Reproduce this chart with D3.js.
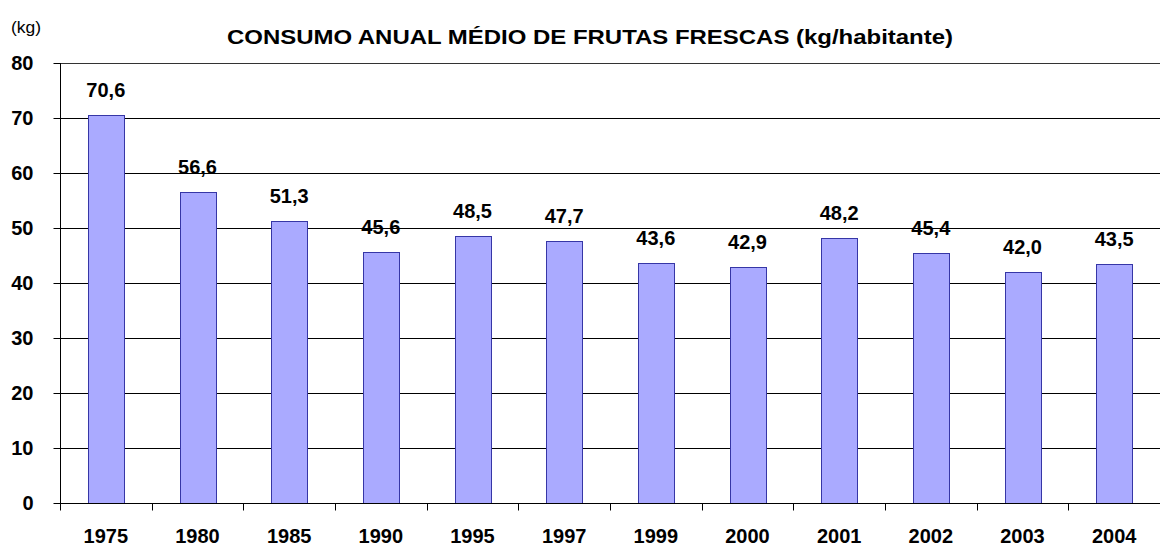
<!DOCTYPE html>
<html><head><meta charset="utf-8">
<script src="https://cdn.jsdelivr.net/npm/d3@7"></script>
<style>body{margin:0;background:#fff}svg{display:block}text{font-family:"Liberation Sans",Arial,sans-serif}</style>
</head><body>
<svg id="c" width="1162" height="546"></svg>
<script>
const categories = ["1975","1980","1985","1990","1995","1997","1999","2000","2001","2002","2003","2004"];
const values = [70.6,56.6,51.3,45.6,48.5,47.7,43.6,42.9,48.2,45.4,42.0,43.5];
const labels = ["70,6","56,6","51,3","45,6","48,5","47,7","43,6","42,9","48,2","45,4","42,0","43,5"];
const yTicks = [0,10,20,30,40,50,60,70,80];
const title = "CONSUMO ANUAL MÉDIO DE FRUTAS FRESCAS (kg/habitante)";
const unit = "(kg)";

const svg = d3.select("#c");
const L=60, R=1160, T=63, B=503;
const xb = d3.scaleBand().domain(categories).range([L,R]);
const y = d3.scaleLinear().domain([0,80]).range([B,T]);
const FONT = "Liberation Sans, Arial, sans-serif";

// gridlines
svg.append("g").selectAll("line").data(yTicks.filter(d=>d>0)).join("line")
  .attr("x1",L).attr("x2",R).attr("y1",d=>y(d)+0.5).attr("y2",d=>y(d)+0.5)
  .attr("stroke",d=>d===80?"#333":"#000").attr("stroke-width",1);

// bars
svg.append("g").selectAll("rect").data(values).join("rect")
  .attr("x",(d,i)=>Math.round(xb(categories[i])+xb.bandwidth()/2-18)+0.5)
  .attr("width",36)
  .attr("y",d=>Math.round(y(d))+0.5).attr("height",d=>B-Math.round(y(d)))
  .attr("fill","#aaaaff").attr("stroke","#3636a6").attr("stroke-width",1);

// y axis
const ya = svg.append("g").attr("transform",`translate(${L+0.5},0)`)
  .call(d3.axisLeft(y).tickValues(yTicks).tickSize(7).tickPadding(20).tickFormat(d3.format("d")));
ya.select(".domain").attr("d",`M0,${T}V${B+7}`).attr("stroke","#000");
ya.selectAll("text").attr("font-size",20).attr("font-weight","bold").attr("fill","#000").attr("font-family",FONT);
ya.selectAll(".tick line").attr("stroke","#000");

// x axis
const xa = svg.append("g").attr("transform",`translate(0,${B+0.5})`)
  .call(d3.axisBottom(xb).tickSize(0).tickPadding(25));
xa.select(".domain").remove();
xa.append("line").attr("x1",L).attr("x2",R).attr("stroke","#000");
xa.selectAll(".sep").data(categories).join("line").attr("class","sep")
  .attr("x1",(d,i)=>Math.round(L+xb.step()*i)+0.5).attr("x2",(d,i)=>Math.round(L+xb.step()*i)+0.5)
  .attr("y1",0).attr("y2",7).attr("stroke","#000");
xa.selectAll("text").attr("font-size",20).attr("font-weight","bold").attr("fill","#000").attr("font-family",FONT);

// value labels
svg.append("g").selectAll("text").data(values).join("text")
  .attr("x",(d,i)=>xb(categories[i])+xb.bandwidth()/2)
  .attr("y",d=>y(d)-18)
  .attr("text-anchor","middle").attr("font-size",20).attr("font-weight","bold")
  .text((d,i)=>labels[i]);

// title
svg.append("text").attr("x",590).attr("y",44).attr("text-anchor","middle")
  .attr("font-size",21).attr("font-weight","bold")
  .attr("textLength",726).attr("lengthAdjust","spacingAndGlyphs").text(title);
svg.append("text").attr("x",11).attr("y",33).attr("font-size",16)
  .attr("textLength",30).attr("lengthAdjust","spacingAndGlyphs").text(unit);
</script>
</body></html>
